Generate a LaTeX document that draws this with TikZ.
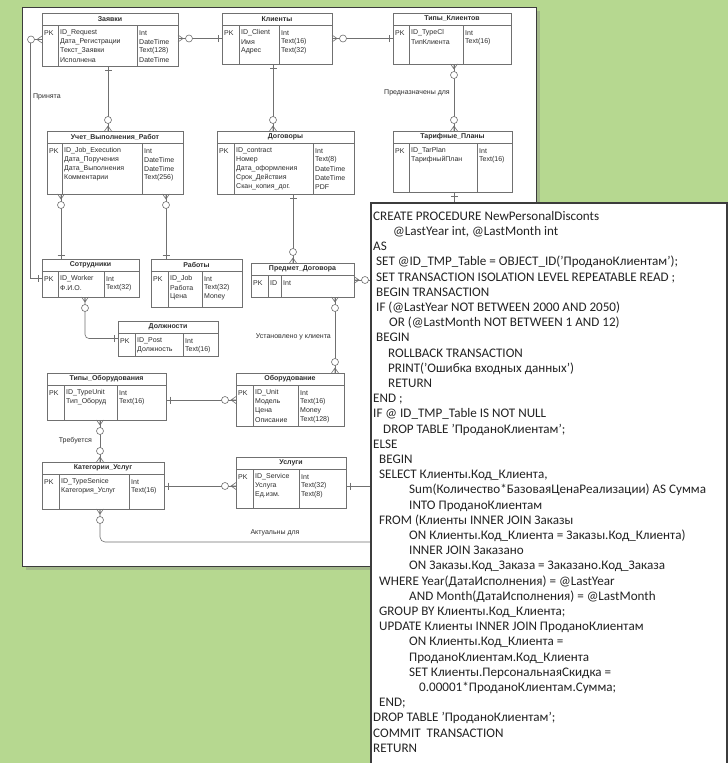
\documentclass[tikz,border=0pt]{standalone}
\usepackage{fontspec}
\setmainfont{Carlito}
\newfontfamily\erfont{Liberation Sans}
\usetikzlibrary{positioning, calc, shadows}
\definecolor{bggreen}{RGB}{182,216,144}
\definecolor{erline}{RGB}{112,112,112}
\definecolor{ertext}{RGB}{45,45,45}
\definecolor{codetext}{RGB}{35,35,35}
\definecolor{panelframe}{RGB}{60,60,60}

\tikzset{
  erpanel/.style={draw=panelframe, fill=white, line width=1pt, inner sep=0pt, outer sep=0pt,
                  drop shadow={shadow xshift=4pt, shadow yshift=-4pt, opacity=0.35}},
  codepanel/.style={draw=panelframe, fill=white, line width=1.2pt, inner sep=0pt, outer sep=0pt},
  entity/.style={draw=erline, fill=white, line width=0.6pt, inner sep=0pt, outer sep=0pt,
                 drop shadow={shadow xshift=1.2pt, shadow yshift=-1.2pt, opacity=0.18}},
  entline/.style={draw=erline, line width=0.5pt},
  enttitle/.style={font=\erfont\fontsize{7}{8}\selectfont\bfseries, text=ertext, inner sep=0pt},
  entrow/.style={font=\erfont\fontsize{7}{8}\selectfont, text=ertext, inner sep=0pt, anchor=west},
  rel/.style={draw=erline, line width=0.6pt},
  rellabel/.style={font=\erfont\fontsize{7}{8}\selectfont, text=ertext, inner sep=0pt},
  codetext/.style={font=\fontsize{13.1}{15.2}\selectfont, text=codetext, align=left, inner sep=0pt},
  crowo/.pic={\draw[rel] (0,-3.5) -- (5,0) -- (0,3.5) (0,0) -- (5,0);
              \draw[rel, fill=white] (11,0) circle (3.5);},
  onebar/.pic={\draw[rel] (4,-3.5) -- (4,3.5);},
}

% entity table: name, x1, y1, x2, y2, title, PK divider, type divider, rows
\newcommand\entity[9]{%
  \node[entity, anchor=north west, minimum width={#4-#2}, minimum height={#5-#3}] (#1) at (#2,#3) {};
  \draw[entline] (#2,#3+12) -- (#4,#3+12) (#7,#3+12) -- (#7,#5) (#8,#3+12) -- (#8,#5);
  \node[enttitle] (#1-title) at ({(#2+#4)/2},#3+6) {#6};
  \node[entrow] (#1-pk) at (#2+2,#3+20) {PK};
  \foreach \nm/\tp [count=\i] in {#9} {
    \node[entrow] (#1-n\i) at (#7+2,#3+11+9*\i) {\nm};
    \node[entrow] (#1-t\i) at (#8+2,#3+11+9*\i) {\tp};
  }%
}
\newcommand\ind[1]{\hspace*{#1pt}}

\begin{document}
\begin{tikzpicture}[x=1pt, y=-1pt]
  \useasboundingbox (0,0) rectangle (728,763);
  \fill[bggreen] (0,0) rectangle (728,763);

  % ER diagram sheet
  \node[erpanel, anchor=north west, minimum width=514, minimum height=559] (sheet) at (22,7) {};

  \entity{zayavki}{42}{13}{178}{66}{Заявки}{58}{137}
    {ID\_Request/Int, Дата\_Регистрации/DateTime, Текст\_Заявки/Text(128), Исполнена/DateTime}
  \entity{klienty}{222}{13}{332}{64}{Клиенты}{239}{279}
    {ID\_Client/Int, Имя/Text(16), Адрес/Text(32)}
  \entity{tipklient}{393}{13}{511}{64}{Типы\_Клиентов}{409}{463}
    {ID\_TypeCl/Int, ТипКлиента/Text(16)}
  \entity{uchet}{47}{131}{183}{194}{Учет\_Выполнения\_Работ}{62}{142}
    {ID\_Job\_Execution/Int, Дата\_Поручения/DateTime, Дата\_Выполнения/DateTime, Комментарии/Text(256)}
  \entity{dogovor}{217}{131}{354}{194}{Договоры}{234}{313}
    {ID\_contract/Int, Номер/Text(8), Дата\_оформления/DateTime, Срок\_Действия/DateTime, Скан\_копия\_дог./PDF}
  \entity{tarif}{393}{131}{512}{192}{Тарифные\_Планы}{409}{477}
    {ID\_TarPlan/Int, ТарифныйПлан/Text(16)}
  \entity{sotr}{42}{259}{139}{297}{Сотрудники}{58}{104}
    {ID\_Worker/Int, Ф.И.О./Text(32)}
  \entity{raboty}{151}{259}{242}{307}{Работы}{168}{202}
    {ID\_Job/Int, Работа/Text(32), Цена/Money}
  \entity{predmet}{251}{263}{354}{297}{Предмет\_Договора}{268}{281}
    {ID/Int}
  \entity{dolzh}{118}{321}{218}{356}{Должности}{135}{183}
    {ID\_Post/Int, Должность/Text(16)}
  \entity{tipob}{47}{373}{166}{420}{Типы\_Оборудования}{64}{117}
    {ID\_TypeUnit/Int, Тип\_Оборуд/Text(16)}
  \entity{oborud}{236}{373}{344}{426}{Оборудование}{253}{298}
    {ID\_Unit/Int, Модель/Text(16), Цена/Money, Описание/Text(128)}
  \entity{kateg}{42}{462}{164}{509}{Категории\_Услуг}{59}{129}
    {ID\_TypeSenice/Int, Категория\_Услуг/Text(16)}
  \entity{uslugi}{236}{457}{346}{508}{Услуги}{253}{299}
    {ID\_Service/Int, Услуга/Text(32), Ед.изм./Text(8)}

  % relationships
  \coordinate (cut) at (385,0);
  \draw[rel] (zayavki.east |- klienty.west) -- (klienty.west);
  \draw[rel] (klienty.east) -- (tipklient.west);
  \draw[rel] (zayavki.west) -- ++(-12,0) |- (sotr.west);
  \draw[rel] (zayavki.south -| 108,0) -- (uchet.north -| 108,0);
  \draw[rel] (klienty.south -| 273,0) -- (dogovor.north -| 273,0);
  \draw[rel] (tipklient.south -| 454,0) -- (tarif.north -| 454,0);
  \draw[rel] (tarif.south -| 454,0) -- ++(0,20);
  \draw[rel] (uchet.south -| 61,0) -- (sotr.north -| 61,0);
  \draw[rel] (uchet.south -| 166,0) -- (raboty.north -| 166,0);
  \draw[rel, rounded corners=4] (sotr.south -| 85,0) |- (dolzh.west);
  \draw[rel] (dogovor.south -| 293,0) -- (predmet.north -| 293,0);
  \draw[rel] (predmet.east) -- (predmet.east -| cut);
  \draw[rel] (predmet.south -| 335,0) -- (oborud.north -| 335,0);
  \draw[rel] (tipob.east |- 0,400) -- (oborud.west |- 0,400);
  \draw[rel] (tipob.south -| 100,0) -- (kateg.north -| 100,0);
  \draw[rel] (kateg.east |- 0,486) -- (uslugi.west |- 0,486);
  \draw[rel] (uslugi.east |- 0,486) -- (cut |- 0,486);
  \draw[rel, rounded corners=5] (kateg.south -| 100,0) |- (cut |- 0,542);

  % ends
  \pic at (zayavki.east |- klienty.west) {crowo};
  \pic[rotate=180] at (klienty.west) {onebar};
  \pic at (klienty.east) {crowo};
  \pic[rotate=180] at (tipklient.west) {onebar};
  \pic[rotate=180] at (zayavki.west) {crowo};
  \pic[rotate=180] at (sotr.west) {onebar};
  \pic[rotate=-90] at (zayavki.south -| 108,0) {onebar};
  \pic[rotate=90] at (uchet.north -| 108,0) {crowo};
  \pic[rotate=-90] at (klienty.south -| 273,0) {onebar};
  \pic[rotate=90] at (dogovor.north -| 273,0) {crowo};
  \pic[rotate=-90] at (tipklient.south -| 454,0) {crowo};
  \pic[rotate=90] at (tarif.north -| 454,0) {crowo};
  \pic[rotate=-90] at (tarif.south -| 454,0) {onebar};
  \pic[rotate=-90] at (uchet.south -| 61,0) {crowo};
  \pic[rotate=90] at (sotr.north -| 61,0) {onebar};
  \pic[rotate=-90] at (uchet.south -| 166,0) {crowo};
  \pic[rotate=90] at (raboty.north -| 166,0) {onebar};
  \pic[rotate=-90] at (sotr.south -| 85,0) {crowo};
  \pic[rotate=180] at (dolzh.west) {onebar};
  \pic[rotate=-90] at (dogovor.south -| 293,0) {onebar};
  \pic[rotate=90] at (predmet.north -| 293,0) {crowo};
  \pic at (predmet.east) {crowo};
  \pic[rotate=-90] at (predmet.south -| 335,0) {crowo};
  \pic[rotate=90] at (oborud.north -| 335,0) {crowo};
  \pic at (tipob.east |- 0,400) {onebar};
  \pic[rotate=180] at (oborud.west |- 0,400) {crowo};
  \pic[rotate=-90] at (tipob.south -| 100,0) {crowo};
  \pic[rotate=90] at (kateg.north -| 100,0) {crowo};
  \pic at (kateg.east |- 0,486) {onebar};
  \pic[rotate=180] at (uslugi.west |- 0,486) {crowo};
  \pic at (uslugi.east |- 0,486) {onebar};
  \pic[rotate=-90] at (kateg.south -| 100,0) {crowo};

  \node[rellabel, anchor=west] (lprinyata) at (33,97) {Принята};
  \node[rellabel, anchor=east] (lprednazn) at (450,93) {Предназначены для};
  \node[rellabel, anchor=east] (lustanov) at (331,337) {Установлено у клиента};
  \node[rellabel, anchor=east] (ltrebuet) at (92,441) {Требуется};
  \node[rellabel] (laktual) at (275,533) {Актуальны для};

  % stored procedure sheet
  \node[codepanel, anchor=north west, minimum width=356, minimum height=575] (codebox) at (371,203) {};
  \node[codetext, anchor=north west] (code) at (373,211) {%
    CREATE PROCEDURE NewPersonalDisconts\\
    \ind{20}@LastYear int, @LastMonth int\\
    AS\\
    \ind{3}SET @ID\_TMP\_Table = OBJECT\_ID('ПроданоКлиентам');\\
    \ind{3}SET TRANSACTION ISOLATION LEVEL REPEATABLE READ ;\\
    \ind{3}BEGIN TRANSACTION\\
    \ind{3}IF (@LastYear NOT BETWEEN 2000 AND 2050)\\
    \ind{16}OR (@LastMonth NOT BETWEEN 1 AND 12)\\
    \ind{3}BEGIN\\
    \ind{15}ROLLBACK TRANSACTION\\
    \ind{15}PRINT('Ошибка входных данных')\\
    \ind{15}RETURN\\
    END ;\\
    IF @ ID\_TMP\_Table IS NOT NULL\\
    \ind{10}DROP TABLE 'ПроданоКлиентам';\\
    ELSE\\
    \ind{6}BEGIN\\
    \ind{6}SELECT Клиенты.Код\_Клиента,\\
    \ind{36}Sum(Количество*БазоваяЦенаРеализации) AS Сумма\\
    \ind{36}INTO ПроданоКлиентам\\
    \ind{6}FROM (Клиенты INNER JOIN Заказы\\
    \ind{36}ON Клиенты.Код\_Клиента = Заказы.Код\_Клиента)\\
    \ind{36}INNER JOIN Заказано\\
    \ind{36}ON Заказы.Код\_Заказа = Заказано.Код\_Заказа\\
    \ind{6}WHERE Year(ДатаИсполнения) = @LastYear\\
    \ind{36}AND Month(ДатаИсполнения) = @LastMonth\\
    \ind{6}GROUP BY Клиенты.Код\_Клиента;\\
    \ind{6}UPDATE Клиенты INNER JOIN ПроданоКлиентам\\
    \ind{36}ON Клиенты.Код\_Клиента =\\
    \ind{36}ПроданоКлиентам.Код\_Клиента\\
    \ind{36}SET Клиенты.ПерсональнаяСкидка =\\
    \ind{46}0.00001*ПроданоКлиентам.Сумма;\\
    \ind{6}END;\\
    DROP TABLE 'ПроданоКлиентам';\\
    COMMIT\ \ TRANSACTION\\
    RETURN};
\end{tikzpicture}
\end{document}
